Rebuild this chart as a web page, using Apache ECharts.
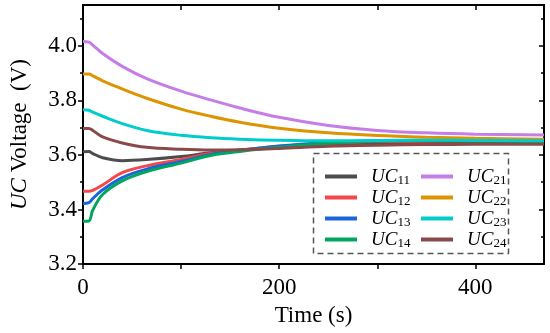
<!DOCTYPE html>
<html>
<head>
<meta charset="utf-8">
<script src="https://cdn.jsdelivr.net/npm/echarts@6/dist/echarts.min.js"></script>
<style>html,body{margin:0;padding:0;background:#fff}#c{width:550px;height:333px}</style>
</head>
<body>
<div id="c"></div>
<script>
// time (s)
const time = [0, 6, 10, 20, 40, 65, 100, 130, 160, 200, 250, 300, 350, 400, 470];
// voltages (V)
const UC11 = [3.612, 3.613, 3.605, 3.590, 3.579, 3.583, 3.594, 3.608, 3.617, 3.628, 3.637, 3.641, 3.643, 3.644, 3.644];
const UC12 = [3.467, 3.467, 3.470, 3.490, 3.535, 3.560, 3.583, 3.605, 3.618, 3.632, 3.643, 3.649, 3.651, 3.652, 3.652];
const UC13 = [3.422, 3.425, 3.440, 3.472, 3.517, 3.548, 3.576, 3.602, 3.617, 3.633, 3.646, 3.652, 3.654, 3.653, 3.650];
const UC14 = [3.357, 3.358, 3.398, 3.455, 3.505, 3.539, 3.570, 3.598, 3.613, 3.628, 3.643, 3.651, 3.653, 3.651, 3.648];
const UC21 = [4.016, 4.014, 4.003, 3.972, 3.925, 3.880, 3.834, 3.802, 3.772, 3.738, 3.708, 3.690, 3.681, 3.676, 3.673];
const UC22 = [3.897, 3.897, 3.890, 3.872, 3.842, 3.808, 3.768, 3.742, 3.720, 3.698, 3.681, 3.671, 3.665, 3.661, 3.658];
const UC23 = [3.766, 3.764, 3.757, 3.742, 3.715, 3.690, 3.672, 3.663, 3.658, 3.654, 3.652, 3.653, 3.654, 3.653, 3.652];
const UC24 = [3.697, 3.697, 3.690, 3.666, 3.644, 3.628, 3.621, 3.618, 3.619, 3.624, 3.632, 3.636, 3.638, 3.639, 3.639];

const names1 = ['UC11', 'UC12', 'UC13', 'UC14'];
const names2 = ['UC21', 'UC22', 'UC23', 'UC24'];
const values = {UC11, UC12, UC13, UC14, UC21, UC22, UC23, UC24};
const colors = {UC11:'#4d4d4d', UC12:'#f5464b', UC13:'#1b66d6', UC14:'#00a65e',
                UC21:'#c47ee6', UC22:'#de9300', UC23:'#00cccc', UC24:'#8a4a4a'};

const xTicks = [0, 100, 200, 300, 400];
const xLabels = [0, 200, 400];
const yMajor = [3.2, 3.4, 3.6, 3.8, 4.0];
const yMinor = [3.3, 3.5, 3.7, 3.9, 4.1];

const FONT = '"Liberation Serif", "Times New Roman", serif';
const X_MIN = 0, X_MAX = 470, Y_MIN = 3.2, Y_MAX = 4.15;

function yAx(pos, ticks, len, inside, labels) {
  return {
    type: 'value', position: pos, min: Y_MIN, max: Y_MAX,
    axisLine: {show: true, onZero: false, lineStyle: {color: '#000', width: 2}},
    axisTick: {show: true, inside: inside, length: len, customValues: ticks, lineStyle: {color: '#000', width: 1.5}},
    axisLabel: labels ? {show: true, customValues: ticks, margin: 6, color: '#000', fontFamily: FONT, fontSize: 23,
      formatter: v => v.toFixed(1)} : {show: false},
    splitLine: {show: false}
  };
}

const series = names1.concat(names2).map(n => ({
  name: n, type: 'line', xAxisIndex: 0, yAxisIndex: 0,
  data: time.map((t, i) => [t, values[n][i]]),
  symbol: 'none', smooth: 0.35,
  lineStyle: {color: colors[n], width: 3}, itemStyle: {color: colors[n]}
}));

const legendRich = {
  a: {fontFamily: FONT, fontStyle: 'italic', fontSize: 19, color: '#000', padding: [0, 0, 0, 9], lineHeight: 21},
  b: {fontFamily: FONT, fontSize: 13, color: '#000', lineHeight: 21, padding: [8, 0, 0, 0]}
};
function legend(left, data) {
  return {
    orient: 'vertical', left: left, top: 161, itemGap: 0, itemWidth: 32, itemHeight: 4, icon: 'rect',
    data: data, selectedMode: false,
    formatter: n => '{a|UC}{b|' + n.slice(2) + '}',
    textStyle: {rich: legendRich}
  };
}

const chart = echarts.init(document.getElementById('c'), null, {renderer: 'canvas'});
chart.setOption({
  animation: false,
  backgroundColor: '#fff',
  grid: {left: 82, right: 6, top: 5, bottom: 69, containLabel: false},
  xAxis: [{
    type: 'value', position: 'bottom', min: X_MIN, max: X_MAX,
    name: 'Time (s)', nameLocation: 'middle', nameGap: 40,
    nameTextStyle: {fontFamily: FONT, fontSize: 23, color: '#000'},
    axisLine: {show: true, onZero: false, lineStyle: {color: '#000', width: 2}},
    axisTick: {show: true, inside: false, length: 5, customValues: xTicks, lineStyle: {color: '#000', width: 1.5}},
    axisLabel: {show: true, customValues: xLabels, margin: 12, color: '#000', fontFamily: FONT, fontSize: 23},
    splitLine: {show: false}
  }, {
    type: 'value', position: 'top', min: X_MIN, max: X_MAX,
    axisLine: {show: true, onZero: false, lineStyle: {color: '#000', width: 2}},
    axisTick: {show: true, inside: true, length: 5, customValues: xTicks, lineStyle: {color: '#000', width: 1.5}},
    axisLabel: {show: false}, splitLine: {show: false}
  }],
  yAxis: [
    Object.assign(yAx('left', yMajor, 5, false, true), {
      name: '{i|UC} Voltage  (V)', nameLocation: 'middle', nameGap: 52,
      nameTextStyle: {fontFamily: FONT, fontSize: 23, color: '#000',
        rich: {i: {fontFamily: FONT, fontStyle: 'italic', fontSize: 23, color: '#000'}}}
    }),
    yAx('left', yMinor, 3, false, false),
    yAx('right', yMajor, 5, true, false),
    yAx('right', yMinor, 3, true, false)
  ],
  legend: [legend(320, names1), legend(416, names2)],
  series: series,
  graphic: [{
    type: 'rect', z: 100, silent: true,
    shape: {x: 313.5, y: 153.5, width: 195, height: 100},
    style: {fill: 'none', stroke: '#555', lineWidth: 1.5, lineDash: [6, 4]}
  }]
});
</script>
</body>
</html>
